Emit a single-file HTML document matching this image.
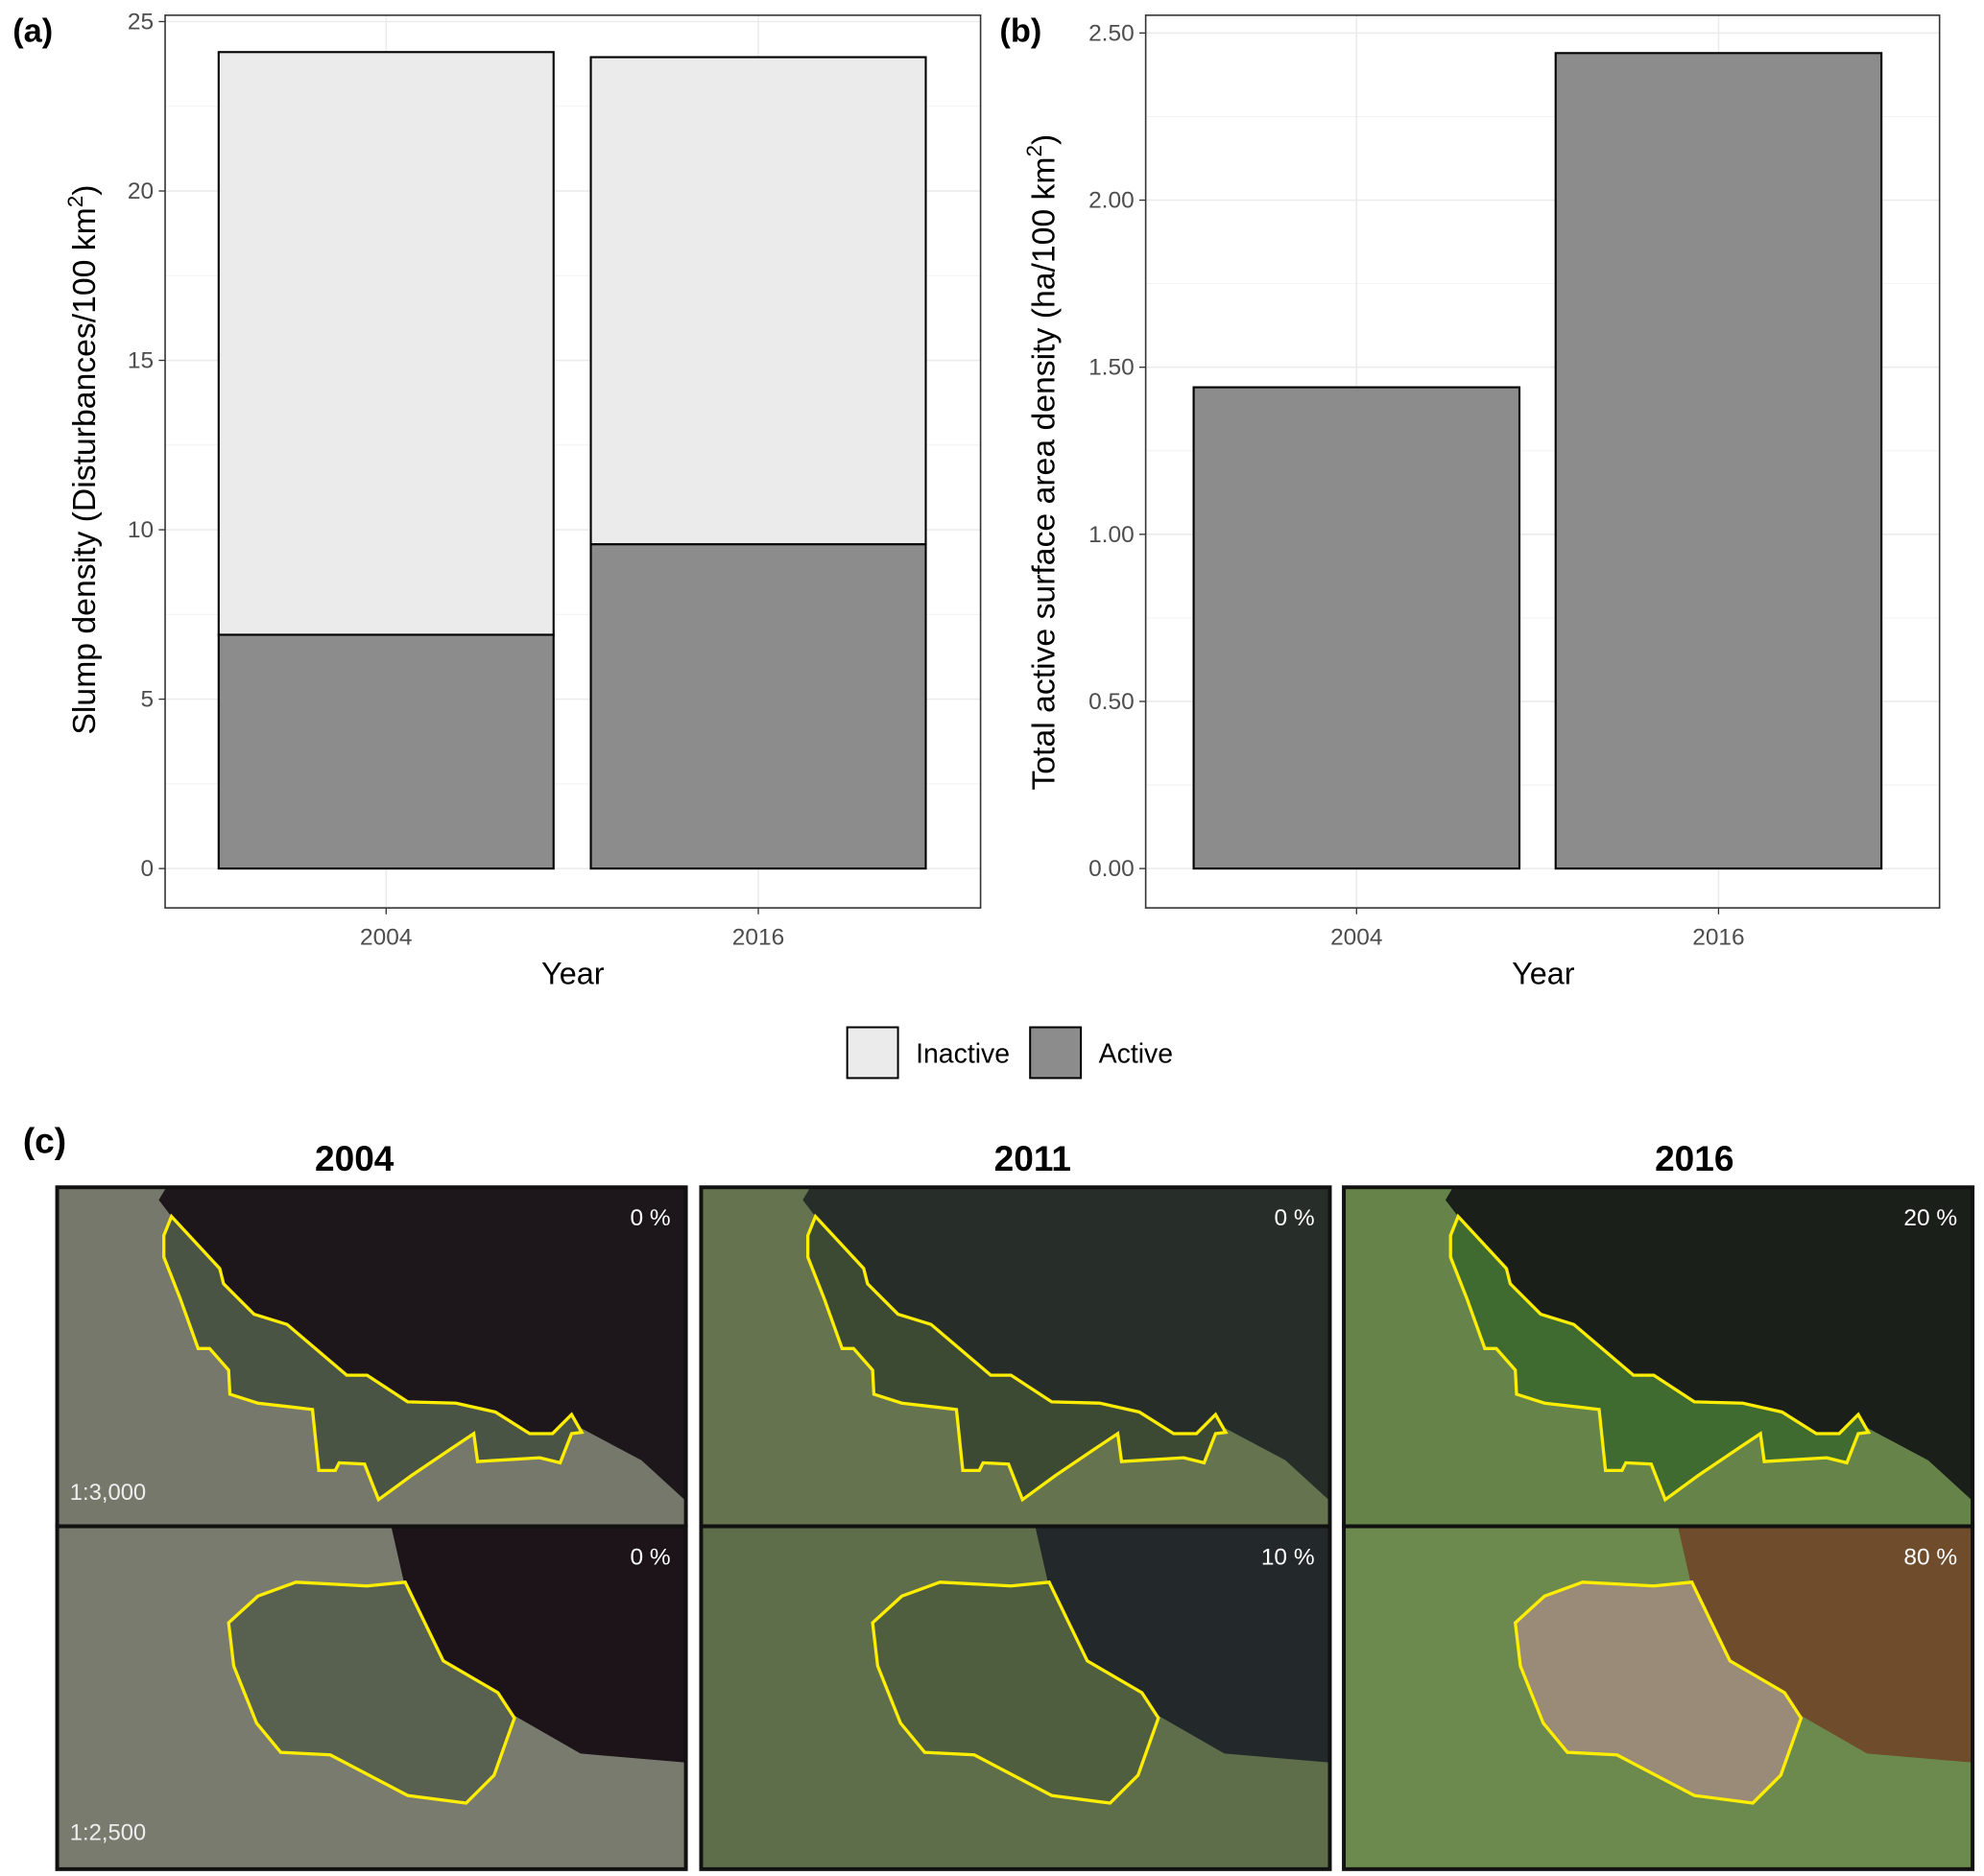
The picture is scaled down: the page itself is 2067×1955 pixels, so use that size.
<!DOCTYPE html>
<html><head><meta charset="utf-8"><style>
html,body{margin:0;padding:0;background:#fff}
svg{display:block}
text{font-family:"Liberation Sans",Arial,sans-serif}
</style></head><body>
<svg id="fig" width="2067" height="1955" viewBox="0 0 1562 1477.4" preserveAspectRatio="none" xmlns="http://www.w3.org/2000/svg">
<g id="pa"></g>
<g id="pb"></g>
<g id="legend">
  <rect x="667" y="809" width="40" height="40" fill="#ebebeb" stroke="#000" stroke-width="1.5"/>
  <text x="721" y="837" font-size="21.5" fill="#000">Inactive</text>
  <rect x="811" y="809" width="40" height="40" fill="#8c8c8c" stroke="#000" stroke-width="1.5"/>
  <text x="865" y="837" font-size="21.5" fill="#000">Active</text>
</g>
<g id="pc">
  <text x="18" y="908" font-size="28" font-weight="bold">(c)</text>
  <text x="279" y="922" font-size="28" font-weight="bold" text-anchor="middle">2004</text>
  <text x="813" y="922" font-size="28" font-weight="bold" text-anchor="middle">2011</text>
  <text x="1334" y="922" font-size="28" font-weight="bold" text-anchor="middle">2016</text>
</g>
</svg>
<script>
// ---- Panel (a) data ----
const yearsA = ["2004", "2016"];
const activeA = [6.9, 9.57];
const totalA = [24.1, 23.95];
const ticksA = [0, 5, 10, 15, 20, 25];
// ---- Panel (b) data ----
const yearsB = ["2004", "2016"];
const areaB = [1.44, 2.44];
const ticksB = [0, 0.5, 1.0, 1.5, 2.0, 2.5];

const NS = "http://www.w3.org/2000/svg";
function mk(parent, tag, attrs, txt) {
  const e = document.createElementNS(NS, tag);
  for (const k in attrs) e.setAttribute(k, attrs[k]);
  if (txt !== undefined) e.textContent = txt;
  parent.appendChild(e);
  return e;
}

function panel(g, box, ymin, ymax, ticks, fmt, cats) {
  const ys = v => box.y0 - (v - ymin) / (ymax - ymin) * (box.y0 - box.y1);
  const bw = (box.r - box.l) / cats.length;
  const xc = i => box.l + bw * (i + 0.5);
  for (let i = 0; i < ticks.length - 1; i++) {
    const m = (ticks[i] + ticks[i + 1]) / 2;
    const l = mk(g, "line", {x1: box.L, x2: box.R, y1: ys(m), y2: ys(m), stroke: "#f2f2f2", "stroke-width": 0.8});
    
    
  }
  ticks.forEach(t => {
    const l = mk(g, "line", {x1: box.L, x2: box.R, y1: ys(t), y2: ys(t), stroke: "#ebebeb", "stroke-width": 1.2});
    
    
    const tk = mk(g, "line", {x1: box.L - 5, x2: box.L, y1: ys(t), y2: ys(t), stroke: "#333", "stroke-width": 1});
    
    
    const tx = mk(g, "text", {x: box.L - 9, y: ys(t) + 6, "font-size": 18.5, fill: "#4d4d4d", "text-anchor": "end"}, fmt(t));
    
    
  });
  cats.forEach((c, i) => {
    const l = mk(g, "line", {x1: xc(i), x2: xc(i), y1: box.T, y2: box.B, stroke: "#ebebeb", "stroke-width": 1.2});
    
    
    const tk = mk(g, "line", {x1: xc(i), x2: xc(i), y1: box.B, y2: box.B + 5, stroke: "#333", "stroke-width": 1});
    
    
    const tx = mk(g, "text", {x: xc(i), y: box.B + 29, "font-size": 18.5, fill: "#4d4d4d", "text-anchor": "middle"}, c);
    
    
  });
  return {ys, xc, bw};
}

function bar(g, x, w, y0, y1, fill, name) {
  const r = mk(g, "rect", {x: x, y: Math.min(y0, y1), width: w, height: Math.abs(y0 - y1), fill: fill, stroke: "#000", "stroke-width": 1.6});
  
  
}

function frame(g, box) {
  const f = mk(g, "rect", {x: box.L, y: box.T, width: box.R - box.L, height: box.B - box.T, fill: "none", stroke: "#333", "stroke-width": 1.2});
  
  
}

// Panel a
(function () {
  const g = document.getElementById("pa");
  const box = {L: 130, R: 772, T: 12, B: 715, l: 157.5, r: 743.5, y0: 684, y1: 17};
  const s = panel(g, box, 0, 25, ticksA, t => String(t), yearsA);
  const w = s.bw * 0.9;
  yearsA.forEach((y, i) => {
    bar(g, s.xc(i) - w / 2, w, s.ys(activeA[i]), s.ys(totalA[i]), "#ebebeb", "bar-inactive-" + y);
    bar(g, s.xc(i) - w / 2, w, s.ys(0), s.ys(activeA[i]), "#8c8c8c", "bar-active-" + y);
  });
  frame(g, box);
  const lab = mk(g, "text", {x: 10, y: 33, "font-size": 26, "font-weight": "bold"}, "(a)");
   
  const yt = mk(g, "text", {transform: "translate(75,362) rotate(-90)", "font-size": 25.5, "text-anchor": "middle"});
  yt.innerHTML = 'Slump density (Disturbances/100 km<tspan dy="-10" font-size="17">2</tspan><tspan dy="10">)</tspan>';
   
  const xt = mk(g, "text", {x: 451, y: 775, "font-size": 24.5, "text-anchor": "middle"}, "Year");
   
})();

// Panel b
(function () {
  const g = document.getElementById("pb");
  const box = {L: 902, R: 1527, T: 12, B: 715, l: 925.5, r: 1495.5, y0: 684, y1: 26};
  const s = panel(g, box, 0, 2.5, ticksB, t => t.toFixed(2), yearsB);
  const w = s.bw * 0.9;
  yearsB.forEach((y, i) => {
    bar(g, s.xc(i) - w / 2, w, s.ys(0), s.ys(areaB[i]), "#8c8c8c", "bar-area-" + y);
  });
  frame(g, box);
  const lab = mk(g, "text", {x: 787, y: 33, "font-size": 26, "font-weight": "bold"}, "(b)");
   
  const yt = mk(g, "text", {transform: "translate(830,364) rotate(-90)", "font-size": 25.5, "text-anchor": "middle"});
  yt.innerHTML = 'Total active surface area density (ha/100 km<tspan dy="-10" font-size="17">2</tspan><tspan dy="10">)</tspan>';
   
  const xt = mk(g, "text", {x: 1215, y: 775, "font-size": 24.5, "text-anchor": "middle"}, "Year");
   
})();

// Panel c: imagery approximations
(function () {
  const g = document.getElementById("pc");
  const cols = [45, 552, 1058];
  const W = 495;
  const rows = [[935, 267], [1202, 270]];
  const land = [["#77786c", "#65734f", "#66844a"], ["#7a7b6f", "#5f6e4a", "#6d8a4e"]];
  const water = [["#1d161a", "#272d29", "#1a2019"], ["#1c1419", "#23282b", "#6e4c2c"]];
  const inner = [["#4a5444", "#3c4a34", "#3f6a30"], ["#58604f", "#4f5e3f", "#9a8a78"]];
  const pct = [["0 %", "0 %", "20 %"], ["0 %", "10 %", "80 %"]];
  const topPoly = [[90,23],[128,64],[131,76],[155,100],[181,108],[228,148],[244,148],[276,169],[314,170],[345,177],[372,194],[390,194],[405,179],[413,193],[405,194],[396,217],[380,213],[331,216],[328,194],[310,206],[279,227],[253,246],[242,218],[222,217],[219,223],[206,223],[201,175],[184,173],[158,170],[136,163],[135,144],[120,127],[111,127],[97,88],[84,55],[84,38]];
  const botPoly = [[135,76],[158,55],[188,44],[244,47],[274,44],[304,106],[347,131],[360,151],[344,196],[322,218],[276,212],[215,180],[176,178],[157,155],[139,110]];
  const topWater = [[86,0],[495,0],[495,247],[460,215],[413,190],[390,194],[372,194],[345,177],[314,170],[276,169],[244,148],[228,148],[181,108],[155,100],[131,76],[128,64],[90,23],[80,10]];
  const botWater = [[263,0],[495,0],[495,186],[412,179],[358,148],[304,106],[273,44]];
  rows.forEach((rw, ri) => {
    cols.forEach((cx, ci) => {
      const oy = rw[0], H = rw[1];
      const r = mk(g, "rect", {x: cx, y: oy, width: W, height: H, fill: land[ri][ci]});
      
      
      const wp = (ri === 0 ? topWater : botWater).map(p => (cx + p[0]) + "," + (oy + p[1])).join(" ");
      const wa = mk(g, "polygon", {points: wp, fill: water[ri][ci]});
      
      
      const poly = (ri === 0 ? topPoly : botPoly);
      const pp = poly.map(p => (cx + p[0]) + "," + (oy + p[1])).join(" ");
      const shp = mk(g, "polygon", {points: pp, fill: inner[ri][ci], stroke: "#ffee00", "stroke-width": 2.5});
      
      
      const t = mk(g, "text", {x: cx + W - 12, y: oy + 30, "font-size": 18.5, fill: "#fff", "text-anchor": "end"}, pct[ri][ci]);
      
      
      const br = mk(g, "rect", {x: cx, y: oy, width: W, height: H, fill: "none", stroke: "#111", "stroke-width": 3});
      
      
    });
  });
  const s1 = mk(g, "text", {x: 55, y: 1181, "font-size": 18, fill: "#eee"}, "1:3,000");
   
  const s2 = mk(g, "text", {x: 55, y: 1449, "font-size": 18, fill: "#eee"}, "1:2,500");
   
})();
</script>
</body></html>
